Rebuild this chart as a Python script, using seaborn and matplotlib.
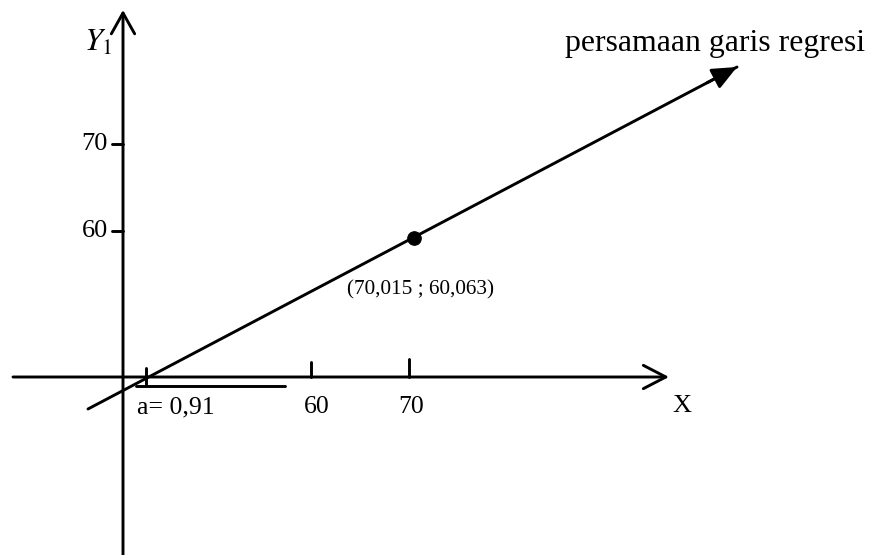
import matplotlib
matplotlib.use("Agg")
import matplotlib.pyplot as plt
import seaborn as sns
import pandas as pd

# diagram coordinates (schematic, measured in drawing units, y grows downward)
y_axis_x = 123
y_axis_span = [555, 10]
x_axis_y = 377
x_axis_span = [13, 669]

y_tick_pos = [144, 231]
y_tick_labels = ["70", "60"]

x_tick_pos = [146, 311, 409]
x_tick_top = [368, 362, 359]
x_tick_bottom = [384, 377, 377]
x_tick_labels = ["a= 0,91", "60", "70"]
x_label_pos = [137, 317, 411]

# regression line and the mean point
reg_x = [88, 737]
reg_y = [409, 67]
mean_x = [414]
mean_y = [238]
mean_label = "(70,015 ; 60,063)"

sns.set_theme(style="white")
plt.rcParams['font.family'] = ['Liberation Serif', 'DejaVu Serif']
plt.rcParams['mathtext.fontset'] = 'stix'
plt.rcParams['text.color'] = 'black'

fig = plt.figure(figsize=(8.69, 5.55), dpi=100)
ax = fig.add_axes([0, 0, 1, 1])
ax.set_xlim(0, 869)
ax.set_ylim(555, 0)
ax.axis('off')

lw = 2.1
# axes with open arrow heads
ax.annotate('', xy=(y_axis_x, y_axis_span[1]), xytext=(y_axis_x, y_axis_span[0]),
            arrowprops=dict(arrowstyle='->,head_length=1.25,head_width=0.7', lw=lw,
                            color='black', shrinkA=0, shrinkB=0))
ax.annotate('', xy=(x_axis_span[1], x_axis_y), xytext=(x_axis_span[0], x_axis_y),
            arrowprops=dict(arrowstyle='->,head_length=1.35,head_width=0.7', lw=lw,
                            color='black', shrinkA=0, shrinkB=0))

# y ticks and labels
for pos, lab in zip(y_tick_pos, y_tick_labels):
    ax.plot([y_axis_x - 11, y_axis_x], [pos, pos], color='black', lw=lw)
    ax.text(108, pos, lab, ha='right', va='center', fontsize=19, color='black')

# x ticks and labels
for pos, top, bot in zip(x_tick_pos, x_tick_top, x_tick_bottom):
    ax.plot([pos, pos], [top, bot], color='black', lw=lw)
ax.text(x_label_pos[0], 407, x_tick_labels[0], ha='left', va='center', fontsize=18.5,
        color='black')
for pos, lab in zip(x_label_pos[1:], x_tick_labels[1:]):
    ax.text(pos, 407, lab, ha='center', va='center', fontsize=18.5, color='black')
# short line under the intercept
ax.plot([136, 285], [386, 386], color='black', lw=lw)

ax.text(682, 406, "X", ha='center', va='center', fontsize=19, color='black')
ax.text(84, 43, "$Y_1$", ha='left', va='center', fontsize=23, color='black')

# regression line
reg = pd.DataFrame({"x": reg_x, "y": reg_y})
sns.lineplot(data=reg, x="x", y="y", ax=ax, color='black', lw=lw, sort=False)
ax.annotate('', xy=(reg_x[1], reg_y[1]), xytext=(reg_x[1] - 30, reg_y[1] + 15.8),
            arrowprops=dict(arrowstyle='-|>,head_length=1.25,head_width=0.55', lw=lw,
                            color='black', shrinkA=0, shrinkB=0))

pts = pd.DataFrame({"x": mean_x, "y": mean_y})
sns.scatterplot(data=pts, x="x", y="y", ax=ax, color='black', s=95, edgecolor='black')
ax.text(347, 290, mean_label, ha='left', va='center', fontsize=15.3, color='black')

ax.text(565, 43, "persamaan garis regresi", ha='left', va='center', fontsize=22.9,
        color='black')

ax.set_xlabel('')
ax.set_ylabel('')
plt.savefig("out.png", dpi=100)
